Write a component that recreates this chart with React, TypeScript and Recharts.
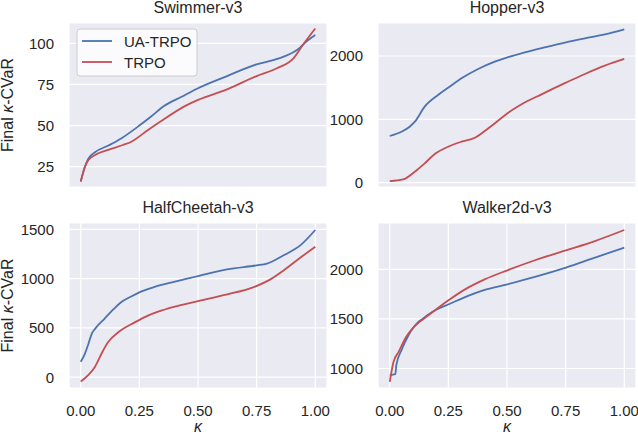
import React from "react";
import { LineChart, Line, XAxis, YAxis, CartesianGrid } from "recharts";

const FONT = '"Liberation Sans", Arial, Helvetica, sans-serif';
const TEXT = "#262626";
const BLUE = "#4C72B0";
const RED = "#C44E52";
const BG = "#EAEAF2";

const kappaTicks = [0, 0.25, 0.5, 0.75, 1];

// Swimmer-v3
const swimmerUaK = [0, 0.018, 0.033, 0.061, 0.12, 0.174, 0.25, 0.3, 0.355, 0.43, 0.5, 0.624, 0.75, 0.837, 0.936, 0.95, 1.0];
const swimmerUaV = [16, 25, 30, 33.8, 38, 42.3, 50, 55.5, 61.9, 67.5, 72.7, 80.1, 87.2, 90.5, 97.5, 99.5, 105];
const swimmerTrK = [0, 0.018, 0.033, 0.061, 0.117, 0.18, 0.216, 0.287, 0.34, 0.44, 0.5, 0.624, 0.75, 0.837, 0.908, 0.95, 1.0];
const swimmerTrV = [16, 25, 29, 32.1, 35.2, 38.2, 40.2, 47.3, 52.4, 61.5, 65.6, 72, 80.1, 84.8, 91, 99.6, 109];

// Hopper-v3
const hopperUaK = [0, 0.05, 0.085, 0.107, 0.149, 0.206, 0.252, 0.306, 0.377, 0.448, 0.502, 0.576, 0.661, 0.751, 0.832, 0.917, 1.0];
const hopperUaV = [737, 805, 884, 963, 1200, 1384, 1505, 1647, 1795, 1910, 1979, 2058, 2137, 2216, 2279, 2342, 2421];
const hopperTrK = [0, 0.057, 0.107, 0.149, 0.192, 0.249, 0.306, 0.363, 0.405, 0.462, 0.502, 0.562, 0.647, 0.751, 0.832, 0.917, 1.0];
const hopperTrV = [26, 53, 174, 305, 453, 568, 647, 710, 816, 979, 1095, 1237, 1395, 1579, 1716, 1847, 1953];

// HalfCheetah-v3
const cheetahUaK = [0, 0.018, 0.033, 0.047, 0.061, 0.1, 0.14, 0.172, 0.213, 0.252, 0.312, 0.397, 0.5, 0.624, 0.75, 0.794, 0.865, 0.936, 1.0];
const cheetahUaV = [156, 240, 340, 440, 490, 590, 690, 760, 816, 863, 914, 968, 1026, 1094, 1134, 1151, 1236, 1337, 1493];
const cheetahTrK = [0, 0.033, 0.061, 0.089, 0.117, 0.16, 0.23, 0.287, 0.33, 0.397, 0.5, 0.624, 0.738, 0.809, 0.865, 0.936, 1.0];
const cheetahTrV = [-44, 23, 106, 240, 356, 456, 556, 625, 665, 714, 772, 840, 914, 992, 1083, 1212, 1324];

// Walker2d-v3
const walkerUaK = [0, 0.024, 0.028, 0.05, 0.08, 0.12, 0.14, 0.165, 0.2, 0.252, 0.334, 0.405, 0.502, 0.619, 0.751, 0.875, 1.0];
const walkerUaV = [933, 943, 1033, 1184, 1335, 1465, 1500, 1545, 1595, 1648, 1732, 1792, 1849, 1923, 2017, 2118, 2218];
const walkerTrK = [0, 0.016, 0.038, 0.066, 0.108, 0.165, 0.2, 0.252, 0.334, 0.405, 0.502, 0.619, 0.751, 0.875, 1.0];
const walkerTrV = [865, 1066, 1167, 1302, 1430, 1536, 1600, 1690, 1815, 1899, 1990, 2091, 2191, 2285, 2396];

const toData = (k: number[], v: number[]) => k.map((x, i) => ({ k: x, v: v[i] }));

type Box = { left: number; right: number; top: number; bottom: number };

const W = 638;
const H = 436;
const YW = 60;
const XH = 30;

function Panel(props: {
  box: Box;
  domain: [number, number];
  yTicks: number[];
  ua: { k: number; v: number }[];
  tr: { k: number; v: number }[];
  showX: boolean;
}) {
  const { box, domain, yTicks, ua, tr, showX } = props;
  const margin = {
    top: box.top,
    left: box.left - YW,
    right: W - box.right,
    bottom: H - box.bottom - XH,
  };
  const tickStyle = { fill: TEXT, fontSize: 15, fontFamily: FONT };
  return (
    <div style={{ position: "absolute", left: 0, top: 0 }}>
      <LineChart width={W} height={H} margin={margin}>
        <CartesianGrid fill={BG} stroke="#ffffff" strokeWidth={1.2} />
        <XAxis
          type="number"
          dataKey="k"
          domain={[-0.05, 1.05]}
          ticks={kappaTicks}
          allowDataOverflow
          height={XH}
          axisLine={false}
          tickLine={false}
          tickSize={0}
          tickMargin={17}
          tick={showX ? tickStyle : false}
          tickFormatter={(v: number) => v.toFixed(2)}
          interval={0}
        />
        <YAxis
          type="number"
          dataKey="v"
          domain={domain}
          ticks={yTicks}
          allowDataOverflow
          width={YW}
          axisLine={false}
          tickLine={false}
          tickSize={0}
          tickMargin={15}
          tick={tickStyle}
          interval={0}
        />
        <Line
          data={ua}
          dataKey="v"
          type="monotone"
          stroke={BLUE}
          strokeWidth={1.8}
          dot={false}
          isAnimationActive={false}
        />
        <Line
          data={tr}
          dataKey="v"
          type="monotone"
          stroke={RED}
          strokeWidth={1.8}
          dot={false}
          isAnimationActive={false}
        />
      </LineChart>
    </div>
  );
}

const TL: Box = { left: 69, right: 327, top: 23, bottom: 187 };
const TR: Box = { left: 378, right: 636, top: 23, bottom: 187 };
const BL: Box = { left: 69, right: 327, top: 223, bottom: 388 };
const BR: Box = { left: 378, right: 636, top: 223, bottom: 388 };

const titles = ["Swimmer-v3", "Hopper-v3", "HalfCheetah-v3", "Walker2d-v3"];
const legendLabels = ["UA-TRPO", "TRPO"];

export default function App() {
  return (
    <div
      style={{
        position: "absolute",
        left: 0,
        top: 0,
        width: W,
        height: H,
        background: "#ffffff",
        fontFamily: FONT,
        overflow: "hidden",
      }}
    >
      <Panel box={TL} domain={[12.66, 112.34]} yTicks={[25, 50, 75, 100]} ua={toData(swimmerUaK, swimmerUaV)} tr={toData(swimmerTrK, swimmerTrV)} showX={false} />
      <Panel box={TR} domain={[-67.9, 2520.9]} yTicks={[0, 1000, 2000]} ua={toData(hopperUaK, hopperUaV)} tr={toData(hopperTrK, hopperTrV)} showX={false} />
      <Panel box={BL} domain={[-109.5, 1563.9]} yTicks={[0, 500, 1000, 1500]} ua={toData(cheetahUaK, cheetahUaV)} tr={toData(cheetahTrK, cheetahTrV)} showX={true} />
      <Panel box={BR} domain={[803.4, 2466.7]} yTicks={[1000, 1500, 2000]} ua={toData(walkerUaK, walkerUaV)} tr={toData(walkerTrK, walkerTrV)} showX={true} />
      <svg
        width={W}
        height={H}
        style={{ position: "absolute", left: 0, top: 0, pointerEvents: "none" }}
        fontFamily={FONT}
      >
        <text x={198} y={13} fontSize={16} fill={TEXT} textAnchor="middle">{titles[0]}</text>
        <text x={507} y={13} fontSize={16} fill={TEXT} textAnchor="middle">{titles[1]}</text>
        <text x={198} y={212.5} fontSize={16} fill={TEXT} textAnchor="middle">{titles[2]}</text>
        <text x={507} y={212.5} fontSize={16} fill={TEXT} textAnchor="middle">{titles[3]}</text>
        <text x={198} y={432} fontSize={16} fill={TEXT} textAnchor="middle" fontStyle="italic">κ</text>
        <text x={507} y={432} fontSize={16} fill={TEXT} textAnchor="middle" fontStyle="italic">κ</text>
        <text x={13} y={105} fontSize={16} fill={TEXT} textAnchor="middle" transform="rotate(-90, 13, 105)">
          Final <tspan fontStyle="italic">κ</tspan>-CVaR
        </text>
        <text x={13} y={305.5} fontSize={16} fill={TEXT} textAnchor="middle" transform="rotate(-90, 13, 305.5)">
          Final <tspan fontStyle="italic">κ</tspan>-CVaR
        </text>
        <rect x={77} y={29} width={120} height={47} rx={3} fill="#ffffff" fillOpacity={0.8} stroke="#cccccc" strokeWidth={1} />
        <line x1={82} x2={112} y1={41} y2={41} stroke={BLUE} strokeWidth={1.8} />
        <line x1={82} x2={112} y1={62} y2={62} stroke={RED} strokeWidth={1.8} />
        <text x={124} y={46.5} fontSize={15} fill={TEXT}>{legendLabels[0]}</text>
        <text x={124} y={67.5} fontSize={15} fill={TEXT}>{legendLabels[1]}</text>
      </svg>
    </div>
  );
}
